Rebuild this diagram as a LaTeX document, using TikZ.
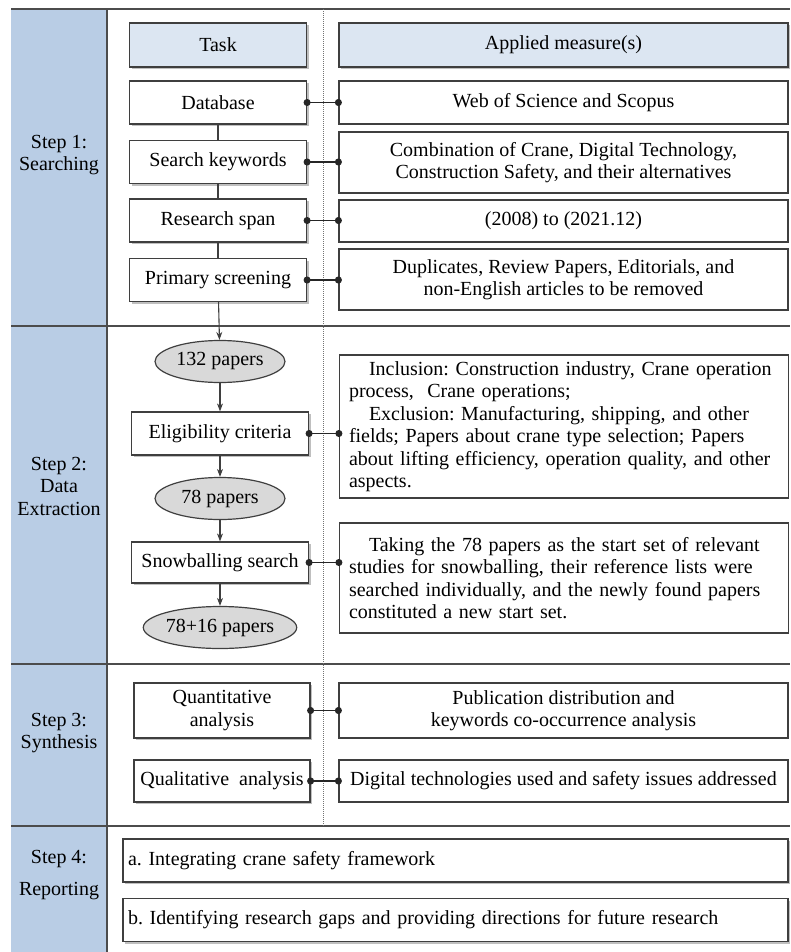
\documentclass[tikz,border=0pt]{standalone}
\usepackage{fontspec}
\setmainfont{Liberation Serif}
\usepackage{xcolor}
\usetikzlibrary{shapes.geometric, arrows.meta, positioning, calc, shadows}

\definecolor{bandblue}{HTML}{B9CDE5}
\definecolor{headblue}{HTML}{DCE6F2}
\definecolor{paperfill}{HTML}{D9D9D9}
\definecolor{edge}{HTML}{3F3F3F}

\begin{document}
\frenchspacing
\begin{tikzpicture}[
    x=1pt, y=-1pt,
    font=\fontsize{20}{22.5}\selectfont,
    task/.style={rectangle, draw=edge, line width=1.2pt, fill=white, minimum width=177pt, minimum height=43pt, align=center, drop shadow={shadow xshift=2pt, shadow yshift=-2pt, fill=black, opacity=0.25}},
    header/.style={task, fill=headblue, minimum height=44pt},
    measure/.style={rectangle, draw=edge, line width=1.2pt, fill=white, minimum width=449pt, align=center},
    longtext/.style={measure, text width=430pt, align=left},
    papers/.style={ellipse, draw=edge, line width=1.2pt, fill=paperfill, minimum width=130pt, minimum height=42pt, inner sep=0pt},
    report/.style={task, minimum width=665pt, inner xsep=5pt, text width=655pt, align=left},
    steplabel/.style={align=center},
    arrow/.style={line width=1.1pt, draw=edge, -{Stealth[length=8pt, width=6pt]}},
    link/.style={line width=1.1pt, draw=black!85, {Circle[length=7pt]}-{Circle[length=7pt]}, shorten <=-3.5pt, shorten >=-3.5pt},
    rule/.style={line width=1.6pt, draw=black!70}
]
\useasboundingbox (0,0) rectangle (790,952);

% Frame
\fill[bandblue] (11,9) rectangle (107,952);
\draw[rule] (11,9) -- (790,9);
\draw[rule] (11,326) -- (790,326);
\draw[rule] (11,664) -- (790,664);
\draw[rule] (11,826) -- (790,826);
\draw[rule] (107,9) -- (107,952);
\draw[black!55, line width=0.8pt, dash pattern=on 1pt off 1pt] (323,9) -- (323,826);

% Step labels
\node[steplabel] (s1) at (59,155) {Step 1:\\Searching};
\node[steplabel] (s2) at (59,486) {Step 2:\\Data\\Extraction};
\node[steplabel] (s3) at (59,733) {Step 3:\\Synthesis};
\node[steplabel] (s4) at (59,875) {Step 4:\\[10pt]Reporting};

% Headers
\node[header] (taskhead) at (218,45) {Task};
\node[header, minimum width=449pt] (measurehead) at (563.5,45) {Applied measure(s)};

% Step 1 nodes
\node[task] (db) at (218,102.5) {Database};
\node[task] (kw) at (218,162) {Search keywords};
\node[task] (span) at (218,220.5) {Research span};
\node[task] (screen) at (218,280) {Primary screening};

\node[measure, minimum height=43pt] (web) at (563.5,102.5) {Web of Science and Scopus};
\node[measure, minimum height=61pt] (combo) at (563.5,162.5) {Combination of Crane, Digital Technology,\\Construction Safety, and their alternatives};
\node[measure, minimum height=42pt] (years) at (563.5,221) {(2008) to (2021.12)};
\node[measure, minimum height=61pt] (removed) at (563.5,279.5) {Duplicates, Review Papers, Editorials, and\\non-English articles to be removed};

% Step 2 nodes
\node[papers] (p132) at (220,361.5) {132 papers};
\node[task] (elig) at (220,433.5) {Eligibility criteria};
\node[papers] (p78) at (220,498.5) {78 papers};
\node[task, minimum height=41pt] (snow) at (220,562.5) {Snowballing search};
\node[papers] (p94) at (220,627.5) {78+16 papers};

\node[longtext, minimum height=143pt] (incl) at (564,426.5) {\hspace*{20pt}Inclusion: Construction industry, Crane operation\\process, \ Crane operations;\\\hspace*{20pt}Exclusion: Manufacturing, shipping, and other\\fields; Papers about crane type selection; Papers\\about lifting efficiency, operation quality, and other\\aspects.};
\node[longtext, minimum height=110pt] (start) at (564,578) {\hspace*{20pt}Taking the 78 papers as the start set of relevant\\studies for snowballing, their reference lists were\\searched individually, and the newly found papers\\constituted a new start set.};

% Step 3 nodes
\node[task, minimum width=176pt, minimum height=55pt] (quant) at (222,710.5) {Quantitative\\analysis};
\node[task, minimum width=176pt, minimum height=42pt] (qual) at (222,781) {Qualitative \ analysis};

\node[measure, minimum height=55pt] (pub) at (563.5,710.5) {Publication distribution and\\keywords co-occurrence analysis};
\node[measure, minimum height=42pt] (digital) at (563.5,781) {Digital technologies used and safety issues addressed};

% Step 4 nodes
\node[report] (framework) at (455.5,860.5) {a. Integrating crane safety framework};
\node[report] (gaps) at (455.5,920) {b. Identifying research gaps and providing directions for future research};

% Connectors
\draw[line width=1.1pt, draw=edge] (db) -- (kw);
\draw[line width=1.1pt, draw=edge] (kw) -- (span);
\draw[line width=1.1pt, draw=edge] (span) -- (screen);
\draw[arrow] (screen) -- (p132);
\draw[arrow] (p132) -- (elig);
\draw[arrow] (elig) -- (p78);
\draw[arrow] (p78) -- (snow);
\draw[arrow] (snow) -- (p94);

\draw[link] (db.east) -- (db.east -| web.west);
\draw[link] (kw.east) -- (kw.east -| combo.west);
\draw[link] (span.east) -- (span.east -| years.west);
\draw[link] (screen.east) -- (screen.east -| removed.west);
\draw[link] (elig.east) -- (elig.east -| incl.west);
\draw[link] (snow.east) -- (snow.east -| start.west);
\draw[link] (quant.east) -- (quant.east -| pub.west);
\draw[link] (qual.east) -- (qual.east -| digital.west);

\end{tikzpicture}
\end{document}
